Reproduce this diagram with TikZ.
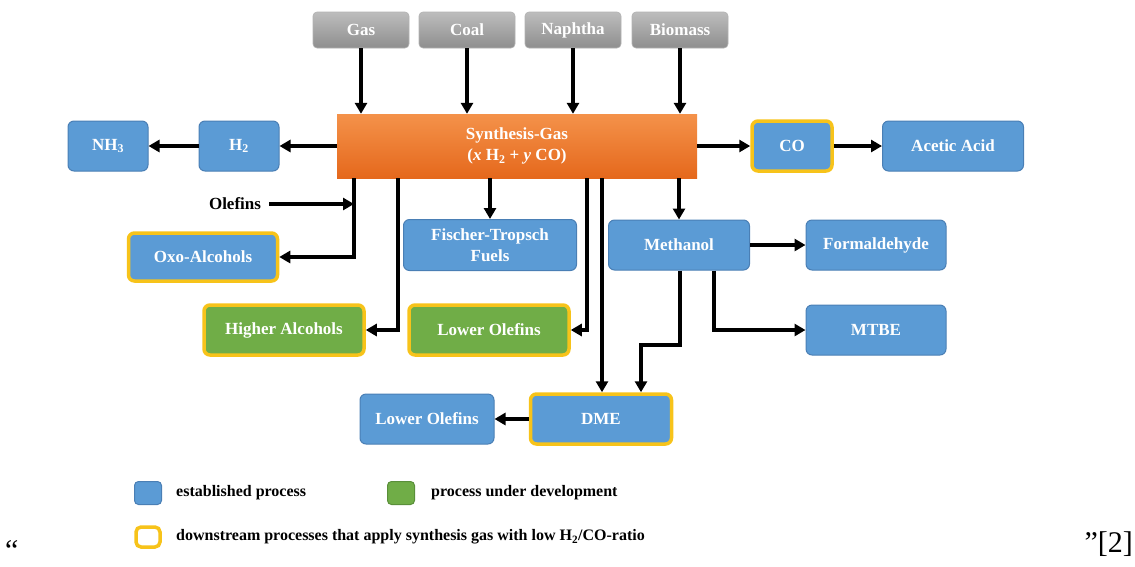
\documentclass[tikz,border=0pt]{standalone}
\usepackage{fontspec}
\setmainfont{Liberation Serif}
\usetikzlibrary{arrows.meta}
\definecolor{pblue}{HTML}{5B9BD5}
\definecolor{pblueD}{HTML}{4A7FB5}
\definecolor{pgreen}{HTML}{70AD47}
\definecolor{pgreenD}{HTML}{5A8F3A}
\definecolor{pyellow}{HTML}{F7C31A}
\definecolor{gtop}{HTML}{BDBDBD}
\definecolor{gbot}{HTML}{8E8E8E}
\definecolor{otop}{HTML}{F4924A}
\definecolor{obot}{HTML}{E5681C}
\tikzset{
  boxtext/.style={text=white, font=\fontsize{17}{21}\selectfont\bfseries, align=center, inner sep=0pt},
  src/.style={boxtext, rounded corners=4pt, top color=gtop, bottom color=gbot, draw=gray!60, line width=0.6pt, minimum width=96, minimum height=36},
  proc/.style={boxtext, rounded corners=6pt, fill=pblue, draw=pblueD, line width=1pt, minimum height=50},
  dev/.style={boxtext, rounded corners=6pt, fill=pgreen, draw=pgreenD, line width=1pt, minimum height=50},
  lowr/.style={draw=pyellow, line width=3.5pt},
  arr/.style={line width=3.2pt, -{Triangle[length=11pt,width=12pt]}},
  legtext/.style={font=\fontsize{16}{19}\selectfont\bfseries, anchor=west, inner sep=0pt}
}
\begin{document}
\begin{tikzpicture}[x=1pt,y=-1pt]
\useasboundingbox (0,0) rectangle (1135,566);
% sources
\node[src] (gas) at (361,30) {Gas};
\node[src] (coal) at (467,30) {Coal};
\node[src] (naph) at (573,30) {Naphtha};
\node[src] (bio) at (680,30) {Biomass};
% synthesis gas
\node[boxtext, top color=otop, bottom color=obot, minimum width=360, minimum height=64] (syn) at (517,146)
  {Synthesis-Gas\\(\textit{x} H\textsubscript{2} + \textit{y} CO)};
% products
\node[proc, minimum width=80] (h2) at (239,146) {H\textsubscript{2}};
\node[proc, minimum width=80] (nh3) at (108,146) {NH\textsubscript{3}};
\node[proc, lowr, minimum width=80] (co) at (792,146) {CO};
\node[proc, minimum width=141] (acetic) at (953,146) {Acetic Acid};
\node[font=\fontsize{17}{21}\selectfont\bfseries, inner sep=0pt] (ole) at (235,204) {Olefins};
\node[proc, lowr, minimum width=149, minimum height=48] (oxo) at (203,257) {Oxo-Alcohols};
\node[proc, minimum width=173, minimum height=51] (ft) at (490,245) {Fischer-Tropsch\\Fuels};
\node[proc, minimum width=141] (meth) at (679,245) {Methanol};
\node[proc, minimum width=140] (form) at (876,245) {Formaldehyde};
\node[dev, lowr, minimum width=160] (hal) at (284,330) {Higher Alcohols};
\node[dev, lowr, minimum width=160] (lo1) at (489,330) {Lower Olefins};
\node[proc, minimum width=140] (mtbe) at (876,330) {MTBE};
\node[proc, lowr, minimum width=141] (dme) at (601,419) {DME};
\node[proc, minimum width=134] (lo2) at (427,419) {Lower Olefins};
% helper coordinates
\coordinate (j1) at (354,0);
\coordinate (j2) at (398,0);
\coordinate (j3) at (587,0);
\coordinate (j4) at (602,0);
\coordinate (j5) at (714,0);
\coordinate (j6) at (680,345);
\coordinate (j7) at (641,345);
% source arrows
\foreach \s in {gas,coal,naph,bio}
  \draw[arr] (\s.south) -- (\s.south |- syn.north);
% connectors
\draw[arr] (syn.west) -- (h2.east);
\draw[arr] (h2.west) -- (nh3.east);
\draw[arr] (syn.east) -- (co.west);
\draw[arr] (co.east) -- (acetic.west);
\draw[arr] (j1 |- syn.south) -- (j1 |- oxo) -- (oxo.east);
\draw[arr] (ole.east) ++(8,0) -- (j1 |- ole);
\draw[arr] (j2 |- syn.south) -- (j2 |- hal) -- (hal.east);
\draw[arr] (syn.south -| ft) -- (ft.north);
\draw[arr] (j3 |- syn.south) -- (j3 |- lo1) -- (lo1.east);
\draw[arr] (j4 |- syn.south) -- (j4 |- dme.north);
\draw[arr] (syn.south -| meth) -- (meth.north);
\draw[arr] (meth.east) -- (form.west);
\draw[arr] (j5 |- meth.south) -- (j5 |- mtbe) -- (mtbe.west);
\draw[arr] (j6 |- meth.south) -- (j6) -- (j7) -- (j7 |- dme.north);
\draw[arr] (dme.west) -- (lo2.east);
% legend
\node[rounded corners=4pt, fill=pblue, draw=pblueD, line width=1pt, minimum width=27, minimum height=23, inner sep=0pt] (lb) at (148,493) {};
\node[legtext] (lbt) at (176,493) {established process};
\node[rounded corners=4pt, fill=pgreen, draw=pgreenD, line width=1pt, minimum width=27, minimum height=23, inner sep=0pt] (lg) at (401,493) {};
\node[legtext] (lgt) at (431,493) {process under development};
\node[rounded corners=5pt, fill=white, draw=pyellow, line width=3.5pt, minimum width=24, minimum height=20, inner sep=0pt] (ly) at (148,537) {};
\node[legtext] (lyt) at (176,537) {downstream processes that apply synthesis gas with low H\textsubscript{2}/CO-ratio};
% quotes
\node[font=\fontsize{30}{32}\selectfont, anchor=west, inner sep=0pt] (q1) at (5,550) {“};
\node[font=\fontsize{30}{32}\selectfont, anchor=east, inner sep=0pt] (q2) at (1133,544) {”[2]};
\end{tikzpicture}
\end{document}
